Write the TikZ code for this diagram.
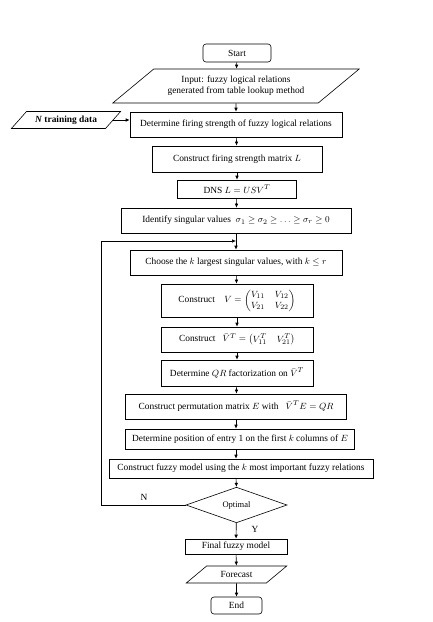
\documentclass[tikz,border=0pt]{standalone}
\usepackage{amsmath}
\usepackage{fontspec}
\setmainfont{Liberation Serif}
\usetikzlibrary{shapes.geometric,arrows.meta}

\begin{document}
\begin{tikzpicture}[
    x=1pt, y=-1pt,
    >={Latex[length=4pt,width=3.5pt]},
    line width=0.6pt,
    font=\fontsize{9.4}{11}\selectfont,
    box/.style={rectangle, draw, inner sep=2pt},
    term/.style={rectangle, draw, rounded corners=3pt, inner sep=2pt},
    io/.style={trapezium, draw, trapezium stretches=true, inner sep=2pt},
    decision/.style={diamond, draw, inner sep=0pt},
    lbl/.style={inner sep=1pt}
]
  \useasboundingbox (0,0) rectangle (433,622);

  % nodes
  \node[term, minimum width=68, minimum height=18] (start) at (237,53) {Start};
  \node[io, trapezium left angle=34, trapezium right angle=146,
        minimum width=247, minimum height=34, align=center] (input) at (236,86)
        {Input: fuzzy logical relations\\generated from table lookup method};
  \node[io, trapezium left angle=45, trapezium right angle=135,
        minimum width=110, minimum height=17] (train) at (66,120)
        {\textbf{\textit{N} training data}};
  \node[box, minimum width=212, minimum height=25] (fire) at (236,124.5)
        {Determine firing strength of fuzzy logical relations};
  \node[box, minimum width=170, minimum height=26] (matL) at (237,159)
        {Construct firing strength matrix $L$};
  \node[box, minimum width=119, minimum height=18] (dns) at (237,189)
        {DNS $L = USV^{T}$};
  \node[box, minimum width=230, minimum height=25] (ident) at (236,220.5)
        {Identify singular values\ \ $\sigma_1 \ge \sigma_2 \ge \ldots \ge \sigma_r \ge 0$};
  \node[box, minimum width=212, minimum height=25] (choose) at (236,262.5)
        {Choose the $k$ largest singular values, with $k \le r$};
  \node[box, minimum width=152, minimum height=33] (consV) at (237,300.5)
        {Construct\quad $V=\begin{pmatrix} V_{11} & V_{12}\\ V_{21} & V_{22}\end{pmatrix}$};
  \node[box, minimum width=152, minimum height=25] (consVb) at (237,339.5)
        {Construct\ \ \ $\bar{V}^{T}=\begin{pmatrix} V_{11}^{T} & V_{21}^{T}\end{pmatrix}$};
  \node[box, minimum width=152, minimum height=26] (qr) at (237,373)
        {Determine $QR$ factorization on\ $\bar{V}^{T}$};
  \node[box, minimum width=221, minimum height=25] (perm) at (236,406.5)
        {Construct permutation matrix $E$ with\ \ \ $\bar{V}^{T}E = QR$};
  \node[box, minimum width=229, minimum height=20] (pos) at (240,439)
        {Determine position of entry 1 on the first $k$ columns of $E$};
  \node[box, minimum width=264, minimum height=19] (model) at (241,468.5)
        {Construct fuzzy model using the $k$ most important fuzzy relations};
  \node[decision, minimum width=101, minimum height=28,
        font=\fontsize{8.5}{10}\selectfont] (opt) at (236.5,505) {Optimal};
  \node[box, minimum width=102, minimum height=15] (final) at (236,546.5)
        {Final fuzzy model};
  \node[io, trapezium left angle=40, trapezium right angle=140,
        minimum width=101, minimum height=17] (fcst) at (236.5,574.5) {Forecast};
  \node[term, minimum width=51, minimum height=17] (end) at (236.5,605.5) {End};

  \node[lbl] (no) at (144,497) {N};
  \node[lbl] (yes) at (255,529) {Y};

  \coordinate (loopB) at (101,505);
  \coordinate (loopT) at (101,241);
  \coordinate (join) at (236,241);

  % edges
  \draw[->] (start) -- (input);
  \draw[->] (input) -- (fire);
  \draw[->] (train.east) -- (train.east -| fire.west);
  \draw[->] (fire) -- (matL);
  \draw[->] (matL) -- (dns);
  \draw[->] (dns) -- (ident);
  \draw[->] (ident) -- (choose);
  \draw[->] (choose) -- (consV);
  \draw[->] (consV) -- (consVb);
  \draw[->] (consVb) -- (qr);
  \draw[->] (qr) -- (perm);
  \draw[->] (perm.south) -- (perm.south |- pos.north);
  \draw[->] (perm.south |- pos.south) -- (perm.south |- model.north);
  \draw[->] (perm.south |- model.south) -- (opt.north);
  \draw[->] (opt) -- (final);
  \draw[->] (final) -- (fcst);
  \draw[->] (fcst) -- (end);
  \draw[->] (opt.west) -- (loopB) -- (loopT) -- (join);
\end{tikzpicture}
\end{document}
